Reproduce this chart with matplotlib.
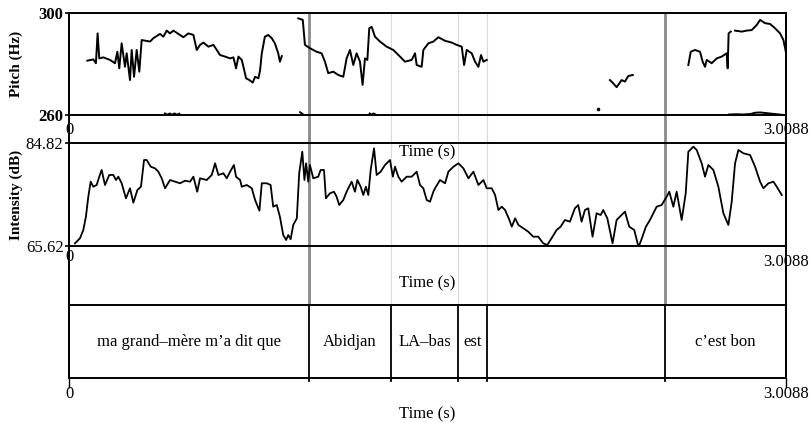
import numpy as np
import matplotlib
matplotlib.use('Agg')
import matplotlib.pyplot as plt

plt.rcParams['font.family'] = ['Liberation Serif', 'DejaVu Serif']

t_end = 3.0088

# pitch contour (Hz), voiced stretches
p1_t = [0.077, 0.102, 0.113, 0.120, 0.127, 0.144, 0.172, 0.193, 0.203, 0.211, 0.221, 0.235, 0.242,
        0.256, 0.263, 0.273, 0.284, 0.295, 0.305, 0.340, 0.354, 0.382, 0.396, 0.410, 0.424, 0.438,
        0.459, 0.480, 0.501, 0.522, 0.536, 0.550, 0.564, 0.585, 0.606, 0.620, 0.634, 0.655, 0.676,
        0.690, 0.701, 0.711, 0.725, 0.732, 0.743, 0.757, 0.771, 0.781, 0.795, 0.802, 0.809, 0.822,
        0.836, 0.851, 0.864, 0.878, 0.885, 0.893]
p1_hz = [281.3, 281.8, 280.3, 292.0, 282.2, 282.6, 281.6, 280.3, 284.8, 278.3, 288.1, 278.9, 284.2,
         273.7, 285.5, 275.0, 285.5, 277.0, 289.4, 288.8, 290.1, 291.8, 290.7, 293.1, 292.0, 293.1,
         291.8, 290.5, 292.0, 291.4, 285.5, 287.5, 288.4, 286.8, 287.5, 285.5, 283.5, 282.9, 282.2,
         282.6, 278.3, 282.9, 281.6, 278.9, 274.4, 273.7, 272.7, 275.0, 274.4, 277.7, 284.2, 290.7,
         291.4, 290.1, 288.1, 284.2, 280.9, 283.1]

p2_t = [0.962, 0.981, 0.990, 1.011, 1.039, 1.060, 1.074, 1.088, 1.109, 1.130, 1.151, 1.165, 1.179,
        1.193, 1.207, 1.221, 1.232, 1.242, 1.252, 1.260, 1.270, 1.284, 1.305, 1.333, 1.361, 1.389,
        1.410, 1.438, 1.452, 1.459, 1.480, 1.487, 1.508, 1.529, 1.550, 1.578, 1.606, 1.627, 1.648,
        1.658, 1.669, 1.690, 1.704, 1.718, 1.729, 1.739, 1.753]
p2_hz = [297.9, 297.3, 287.5, 286.2, 284.8, 284.2, 280.9, 276.4, 277.0, 275.7, 275.0, 282.2, 285.5,
         279.6, 284.2, 280.9, 271.8, 282.2, 281.6, 294.0, 294.6, 290.7, 288.8, 286.8, 285.5, 282.9,
         280.9, 281.6, 284.2, 279.6, 278.9, 285.5, 288.1, 288.8, 290.5, 289.1, 288.4, 287.5, 286.8,
         279.6, 285.5, 284.2, 280.9, 278.9, 283.5, 280.9, 281.6]

p3_t = [2.270, 2.284, 2.298, 2.319, 2.333, 2.347, 2.366]
p3_hz = [273.7, 272.4, 270.9, 273.7, 273.1, 275.3, 275.7]

p4_t = [2.599, 2.609, 2.627, 2.648, 2.659, 2.669, 2.676, 2.697, 2.718, 2.739, 2.760, 2.764, 2.768,
        2.777]
p4_hz = [279.6, 284.8, 285.5, 284.8, 280.9, 278.9, 281.6, 280.3, 282.2, 282.9, 284.2, 278.3, 292.0,
         292.7]

p5_t = [2.795, 2.823, 2.844, 2.865, 2.886, 2.900, 2.921, 2.942, 2.963, 2.984, 2.998, 3.008]
p5_hz = [293.1, 292.7, 293.1, 293.3, 295.3, 297.3, 296.0, 295.7, 294.0, 292.0, 289.4, 284.8]

# isolated point and stretches lying on the bottom edge
dot_t = [2.221]
dot_hz = [262.2]
low1_t = [0.403, 0.413, 0.423, 0.433, 0.443, 0.453, 0.463]
low1_hz = [260.6, 260.1, 260.6, 260.1, 260.6, 260.1, 260.5]
low2_t = [1.262, 1.270, 1.278, 1.286]
low2_hz = [260.6, 260.1, 260.6, 260.2]
low3_t = [0.970, 0.980]
low3_hz = [261.1, 260.4]
low4_t = [2.770, 2.800, 2.830, 2.860, 2.880, 2.900, 2.920, 2.940, 2.960, 2.980, 3.000]
low4_hz = [260.2, 260.3, 260.2, 260.4, 260.9, 261.0, 260.8, 260.6, 260.4, 260.2, 260.0]

# intensity (dB)
int_t = [0.025, 0.046, 0.060, 0.071, 0.081, 0.091, 0.102, 0.116, 0.127, 0.137, 0.151, 0.169, 0.186,
         0.197, 0.207, 0.221, 0.239, 0.256, 0.270, 0.287, 0.302, 0.315, 0.326, 0.343, 0.361, 0.375,
         0.389, 0.403, 0.424, 0.445, 0.466, 0.487, 0.508, 0.522, 0.538, 0.550, 0.578, 0.599, 0.613,
         0.627, 0.648, 0.662, 0.676, 0.692, 0.701, 0.718, 0.725, 0.746, 0.767, 0.781, 0.799, 0.809,
         0.830, 0.846, 0.857, 0.872, 0.885, 0.899, 0.911, 0.920, 0.930, 0.941, 0.956, 0.966, 0.979,
         0.988, 0.995, 1.004, 1.011, 1.025, 1.046, 1.056, 1.070, 1.078, 1.095, 1.112, 1.123, 1.134,
         1.151, 1.165, 1.186, 1.200, 1.210, 1.224, 1.235, 1.246, 1.256, 1.266, 1.280, 1.291, 1.308,
         1.326, 1.347, 1.359, 1.368, 1.382, 1.396, 1.417, 1.438, 1.459, 1.473, 1.487, 1.501, 1.515,
         1.529, 1.536, 1.557, 1.578, 1.592, 1.613, 1.634, 1.655, 1.676, 1.697, 1.718, 1.739, 1.753,
         1.774, 1.788, 1.802, 1.816, 1.830, 1.848, 1.858, 1.872, 1.886, 1.906, 1.927, 1.948, 1.969,
         1.990, 2.007, 2.025, 2.046, 2.063, 2.081, 2.102, 2.123, 2.137, 2.151, 2.165, 2.179, 2.197,
         2.214, 2.231, 2.242, 2.259, 2.281, 2.298, 2.319, 2.333, 2.351, 2.372, 2.390, 2.404, 2.421,
         2.438, 2.452, 2.466, 2.487, 2.508, 2.519, 2.536, 2.550, 2.571, 2.588, 2.599, 2.620, 2.634,
         2.655, 2.669, 2.683, 2.704, 2.725, 2.746, 2.767, 2.781, 2.795, 2.809, 2.830, 2.858, 2.879,
         2.900, 2.914, 2.935, 2.956, 2.970, 2.991]
int_db = [66.12, 67.06, 68.60, 71.08, 74.81, 77.61, 76.67, 76.99, 78.54, 79.79, 76.99, 78.86, 78.86,
          77.92, 78.54, 77.31, 74.51, 76.38, 73.69, 76.06, 76.67, 81.65, 81.65, 80.40, 80.10, 79.47,
          78.24, 76.38, 77.92, 77.61, 77.31, 77.79, 77.61, 78.54, 75.74, 78.24, 77.92, 78.86, 81.03,
          78.86, 79.17, 78.24, 79.47, 80.72, 78.54, 77.92, 76.67, 76.99, 76.38, 74.19, 72.20, 77.31,
          77.31, 76.99, 72.95, 73.26, 71.08, 67.67, 66.74, 67.67, 66.87, 69.54, 70.78, 79.17, 83.20,
          77.92, 81.03, 77.61, 80.72, 78.24, 78.54, 79.79, 79.79, 74.51, 75.44, 75.74, 74.81, 73.26,
          74.19, 75.74, 77.61, 75.74, 77.92, 76.67, 75.13, 76.67, 75.13, 79.79, 83.83, 78.86, 79.47,
          80.72, 81.65, 78.54, 80.40, 78.54, 77.61, 78.54, 78.54, 79.47, 76.99, 76.38, 74.19, 73.88,
          75.74, 76.38, 77.92, 77.31, 79.47, 80.40, 81.03, 80.10, 78.24, 79.47, 76.99, 77.92, 76.38,
          76.38, 75.13, 72.33, 72.95, 72.33, 70.47, 69.22, 70.78, 69.54, 68.92, 68.29, 67.36, 67.36,
          66.12, 65.81, 67.06, 68.60, 69.22, 70.47, 70.15, 72.65, 73.26, 70.15, 72.33, 72.65, 67.36,
          71.72, 71.40, 72.33, 70.78, 66.12, 70.47, 71.40, 72.02, 69.22, 68.60, 65.40, 67.06, 69.22,
          70.47, 71.72, 72.95, 73.26, 74.81, 75.74, 72.95, 75.74, 70.47, 75.44, 83.20, 84.13, 83.52,
          81.03, 78.54, 80.72, 79.79, 76.67, 71.72, 69.54, 73.88, 81.03, 83.52, 82.90, 82.58, 80.40,
          77.61, 76.38, 77.31, 77.61, 76.67, 75.13]

# text grid tier
bounds = [0, 1.009, 1.350, 1.634, 1.753, 2.503, t_end]
words = ['ma grand\u2013m\u00e8re m\u2019a dit que', 'Abidjan', 'LA\u2013bas', 'est', '', 'c\u2019est bon']
thick_marks = [1.009, 2.503]
thin_marks = [1.350, 1.634, 1.753]

W, H = 809, 423
L, R = 69, 786


def rect(top, bottom):
    return [L / W, 1 - bottom / H, (R - L) / W, (bottom - top) / H]


fig = plt.figure(figsize=(W / 100, H / 100), dpi=100)

# gray marks spanning the panels
ax_g = fig.add_axes(rect(13, 305))
ax_g.set_xlim(0, t_end)
ax_g.set_ylim(0, 1)
ax_g.axis('off')
for b in thick_marks:
    ax_g.axvline(b, color='#8a8a8a', lw=2.0, zorder=0)
for b in thin_marks:
    ax_g.axvline(b, color='#d9d9d9', lw=0.8, zorder=0)

# outer left/right frame
ax_f = fig.add_axes(rect(13, 378))
ax_f.set_xlim(0, t_end)
ax_f.patch.set_alpha(0)
ax_f.set_xticks([])
ax_f.set_yticks([])
for s in ['top', 'bottom']:
    ax_f.spines[s].set_visible(False)
for s in ['left', 'right']:
    ax_f.spines[s].set_linewidth(1.4)

tsize = 12


def panel(ax, hpx, y0, y1, lo, hi, c0, c1, ct, bold=False):
    ax.set_xlim(0, t_end)
    ax.set_ylim(lo, hi)
    ax.patch.set_alpha(0)
    for s in ax.spines.values():
        s.set_linewidth(1.4)
    ax.set_xticks([])
    ax.set_yticks([lo, hi])
    ax.set_yticklabels([str(lo), str(hi)], fontweight='bold' if bold else 'normal')
    ax.tick_params(axis='y', length=3, width=1.2, pad=1, labelsize=tsize)
    ax.text(0, -c0 / hpx, '0', transform=ax.transAxes, ha='center', va='center', fontsize=tsize)
    ax.text(1, -c1 / hpx, '3.0088', transform=ax.transAxes, ha='center', va='center', fontsize=tsize)
    ax.text(0.5, -ct / hpx, 'Time (s)', transform=ax.transAxes, ha='center', va='center', fontsize=tsize)


ax_p = fig.add_axes(rect(13, 115))
panel(ax_p, 102, 0, 0, 260, 300, 15, 15, 37, bold=True)
for tt, ff in [(p1_t, p1_hz), (p2_t, p2_hz), (p3_t, p3_hz), (p4_t, p4_hz), (p5_t, p5_hz),
               (low1_t, low1_hz), (low2_t, low2_hz), (low3_t, low3_hz), (low4_t, low4_hz)]:
    ax_p.plot(tt, ff, color='black', lw=1.4)
ax_p.plot(dot_t, dot_hz, 'o', color='black', ms=1.6)

ax_i = fig.add_axes(rect(143, 246))
panel(ax_i, 103, 0, 0, 65.62, 84.82, 11, 16, 37)
ax_i.plot(int_t, int_db, color='black', lw=1.3)

ax_t = fig.add_axes(rect(305, 378))
ax_t.set_xlim(0, t_end)
ax_t.set_ylim(0, 1)
ax_t.patch.set_alpha(0)
for s in ax_t.spines.values():
    s.set_linewidth(1.4)
ax_t.set_yticks([])
ax_t.set_xticks([0, t_end])
ax_t.set_xticklabels(['0', '3.0088'])
ax_t.tick_params(axis='x', length=7, width=1.0, pad=-1, labelsize=tsize)
ax_t.text(0.5, -36 / 73, 'Time (s)', transform=ax_t.transAxes, ha='center', va='center', fontsize=tsize)
for b in bounds[1:-1]:
    ax_t.plot([b, b], [-0.04, 1], color='black', lw=1.3, clip_on=False)
for a, b, w in zip(bounds[:-1], bounds[1:], words):
    ax_t.text((a + b) / 2, 0.5, w, ha='center', va='center', fontsize=12)

fig.text(16 / W, 1 - 64 / H, 'Pitch (Hz)', rotation=90, ha='center', va='center',
         fontsize=11, fontweight='bold')
fig.text(16 / W, 1 - 195 / H, 'Intensity (dB)', rotation=90, ha='center', va='center',
         fontsize=11, fontweight='bold')

fig.savefig('out.png', dpi=100)
